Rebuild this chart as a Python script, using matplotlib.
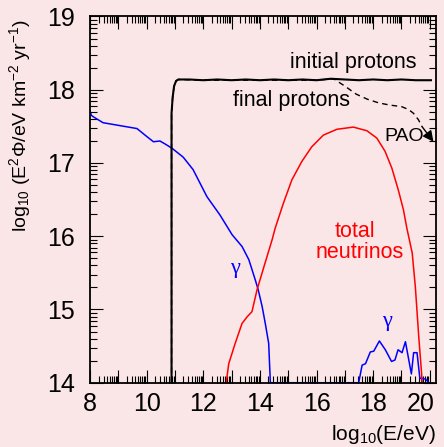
import numpy as np
import matplotlib
matplotlib.use('Agg')
import matplotlib.pyplot as plt
import matplotlib.transforms as mtransforms

plt.rcParams['font.family'] = ['Liberation Sans', 'DejaVu Sans']
plt.rcParams['mathtext.fontset'] = 'custom'
plt.rcParams['mathtext.rm'] = 'Liberation Sans'
plt.rcParams['mathtext.it'] = 'Liberation Sans:italic'

BG = '#fae6e6'

# initial protons (solid black)
init_x = [10.88, 10.88, 10.92, 10.97, 11.04, 11.12, 11.5, 12.0, 12.5, 13.0, 13.5, 14.0, 14.5,
          15.0, 15.5, 16.0, 16.5, 17.0, 17.5, 18.0, 18.5, 19.0, 19.5, 20.04]
init_y = [14.0, 17.68, 17.90, 18.05, 18.12, 18.14, 18.14, 18.13, 18.14, 18.13, 18.14, 18.13, 18.14,
          18.13, 18.14, 18.13, 18.15, 18.14, 18.13, 18.14, 18.13, 18.14, 18.13, 18.13]

# final protons (dashed black) -> PAO
final_x = [10.88, 10.88, 10.92, 10.97, 11.04, 11.12, 12.0, 13.0, 14.0, 15.0, 16.0, 16.6,
           17.0, 17.4, 17.8, 18.2, 18.6, 19.0, 19.25, 19.42, 19.6, 19.72]
final_y = [14.0, 17.68, 17.90, 18.05, 18.12, 18.14, 18.13, 18.13, 18.13, 18.13, 18.13, 18.15,
           18.05, 17.94, 17.87, 17.82, 17.79, 17.77, 17.73, 17.68, 17.59, 17.50]
pao_tip = (20.13, 17.29)

# photons (blue)
gam_x = [8.0, 8.05, 8.12, 8.46, 9.06, 9.66, 10.01, 10.24, 10.47, 10.65, 10.9, 11.29, 11.64,
         12.13, 12.59, 13.02, 13.37, 13.61, 13.84, 13.94, 14.08, 14.19, 14.31, 14.37,
         17.49, 17.61, 17.73, 17.9, 18.02, 18.22, 18.43, 18.65, 18.77, 18.88, 19.02, 19.14,
         19.35, 19.43, 19.55, 19.65, 19.85, 19.97]
gam_y = [17.71, 17.65, 17.63, 17.55, 17.51, 17.47, 17.36, 17.29, 17.30, 17.26, 17.20, 17.08, 16.91,
         16.54, 16.29, 16.02, 15.86, 15.68, 15.40, 15.27, 15.04, 14.81, 14.54, 14.0,
         14.0, 14.24, 14.26, 14.42, 14.43, 14.57, 14.45, 14.29, 14.31, 14.45, 14.41, 14.56,
         14.12, 14.41, 14.41, 14.06, 14.05, 14.0]

# total neutrinos (red)
nu_x = [12.81, 12.90, 13.13, 13.37, 13.55, 13.72, 13.90, 14.14, 14.43, 14.54, 14.83, 15.13,
        15.48, 15.83, 16.24, 16.72, 17.30, 17.78, 18.13, 18.42, 18.66, 18.89, 19.07, 19.19,
        19.38, 19.49, 19.61, 19.71, 19.73]
nu_y = [14.0, 14.26, 14.54, 14.81, 14.90, 14.97, 15.27, 15.58, 15.95, 16.11, 16.45, 16.77,
        17.02, 17.22, 17.38, 17.46, 17.49, 17.44, 17.34, 17.16, 16.93, 16.63, 16.36, 16.11,
        15.77, 15.31, 14.63, 14.13, 14.0]

fig = plt.figure(figsize=(4.44, 4.47), dpi=100, facecolor=BG)
ax = fig.add_axes([0.2027, 0.1438, 0.7793, 0.8193], facecolor=BG)

ax.plot(gam_x, gam_y, color='blue', lw=1.1)
ax.plot(nu_x, nu_y, color='red', lw=1.1)
ax.plot(init_x, init_y, color='black', lw=1.5)
ax.plot(final_x, final_y, color='black', lw=1.0, ls=(0, (4, 3)))
ax.annotate('', xy=pao_tip, xytext=(final_x[-1], final_y[-1]),
            arrowprops=dict(arrowstyle='-|>', color='black', lw=1.0, mutation_scale=16,
                            shrinkA=0, shrinkB=0))

ax.text(17.29, 18.30, 'initial protons', fontsize=15.5, ha='center', va='baseline')
ax.text(15.10, 17.78, 'final protons', fontsize=15.5, ha='center', va='baseline')
ax.text(19.78, 17.30, 'PAO', fontsize=14, ha='right', va='baseline')
ax.text(17.35, 15.99, 'total', fontsize=15.5, color='red', ha='center', va='baseline')
ax.text(17.52, 15.70, 'neutrinos', fontsize=15.5, color='red', ha='center', va='baseline')
ax.text(13.11, 15.50, 'γ', fontsize=16, color='blue', ha='center', va='baseline',
        family='Liberation Serif')
ax.text(18.49, 14.77, 'γ', fontsize=16, color='blue', ha='center', va='baseline',
        family='Liberation Serif')

ax.set_xlim(8, 20.22)
ax.set_ylim(14, 19)

xmaj = list(range(8, 21))
ax.set_xticks(xmaj)
ax.set_xticklabels([str(v) if v % 2 == 0 else '' for v in xmaj], fontsize=18)
ax.set_xticks([k + np.log10(m) for k in range(8, 21) for m in range(2, 10)
               if k + np.log10(m) < 20.22], minor=True)
ymaj = list(range(14, 20))
ax.set_yticks(ymaj)
ax.set_yticklabels([str(v) for v in ymaj], fontsize=18)
ax.set_yticks([k + np.log10(m) for k in range(14, 19) for m in range(2, 10)], minor=True)

ax.tick_params(which='both', direction='in', top=True, right=True, width=0.8)
ax.tick_params(which='major', length=9.4)
ax.tick_params(which='minor', length=4.7)
ax.tick_params(axis='x', pad=6.5)
ax.tick_params(axis='y', pad=11)
for s in ax.spines.values():
    s.set_linewidth(1.3)

# the last x label sits flush with the right spine
lab = ax.get_xticklabels()[-1]
lab.set_ha('right')
lab.set_transform(lab.get_transform() + mtransforms.ScaledTranslation(5 / 100, 0, fig.dpi_scale_trans))

fig.text(0.982, 1 - 440 / 447, 'log$_{10}$(E/eV)', fontsize=15, ha='right', va='baseline')
fig.text(20 / 444, 1 - 126 / 447, 'log$_{10}$ (E$^2$Φ/eV km$^{-2}$ yr$^{-1}$)', fontsize=14,
         rotation=90, ha='center', va='center')

fig.savefig('out.png', dpi=100, facecolor=BG)
